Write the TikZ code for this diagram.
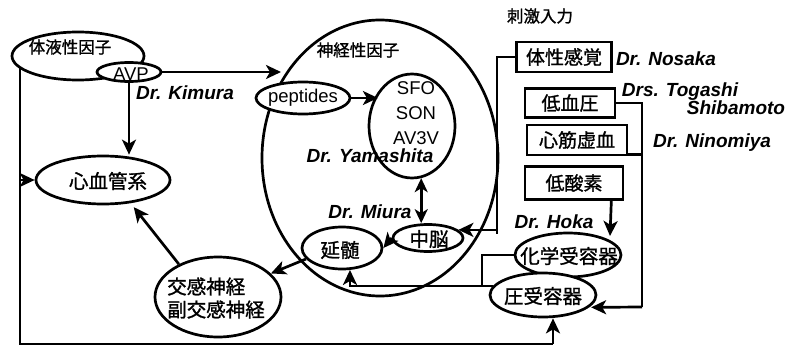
\documentclass[tikz,border=0pt]{standalone}
\usepackage{fontspec}
\setmainfont{Liberation Sans}
\newfontfamily\jp[FakeBold=1.2]{Noto Sans CJK JP}
\usetikzlibrary{shapes.geometric,arrows.meta}
\tikzset{
  ell/.style={ellipse, draw, line width=2.7pt, inner sep=0pt, fill=white},
  bx/.style={rectangle, draw, line width=2.7pt, inner sep=0pt, font=\jp\fontsize{19}{21}\selectfont},
  ln/.style={line width=2.7pt},
  arr/.style={line width=2.7pt, -{Stealth[length=15pt,width=14pt,inset=4pt]}},
  darr/.style={line width=2.7pt, {Stealth[length=14pt,width=13pt,inset=4pt]}-{Stealth[length=14pt,width=13pt,inset=4pt]}},
  jt/.style={font=\jp\fontsize{19.5}{23}\selectfont, inner sep=0pt},
  jts/.style={font=\jp\fontsize{16.5}{18}\selectfont, inner sep=0pt},
  nm/.style={font=\fontsize{19}{21}\selectfont\bfseries\itshape, inner sep=0pt},
  lt/.style={font=\fontsize{18.5}{25}\selectfont, inner sep=0pt}
}
\begin{document}
\begin{tikzpicture}[x=1pt,y=-1pt]
\useasboundingbox (0,0) rectangle (793,351);
% big ellipse
\node[ell, fill=none, minimum width=236pt, minimum height=276pt] (shinkei) at (380,158) {};
\node[jts] (shinkeit) at (358,50) {神経性因子};
% humoral
\node[ell, fill=none, minimum width=132pt, minimum height=48pt] (taieki) at (78,56) {};
\node[jts] (taiekit) at (70,47) {体液性因子};
\node[ell, minimum width=64pt, minimum height=19pt] (avp) at (129,72) {};
\node[lt] (avpt) at (131,74) {AVP};
\node[nm] (kimura) at (185,93) {Dr. Kimura};
% cardiovascular
\node[ell, minimum width=134pt, minimum height=48pt] (xin) at (103,180) {};
\node[jt] (xint) at (108,181) {心血管系};
% autonomic
\node[ell, minimum width=126pt, minimum height=80pt] (kou) at (218,297) {};
\node[jt, align=left] (kout) at (216,298) {交感神経\\副交感神経};
% peptides and SFO
\node[ell, minimum width=94pt, minimum height=32pt] (pep) at (303,98) {};
\node[lt] (pept) at (303,98) {peptides};
\node[ell, fill=none, minimum width=86pt, minimum height=104pt] (sfo) at (412,126) {};
\node[lt, align=center] (sfot) at (416,113) {SFO\\SON\\AV3V};
\node[nm] (yama) at (370,156) {Dr. Yamashita};
\node[nm] (miura) at (370,212) {Dr. Miura};
% midbrain, medulla
\node[ell, minimum width=70pt, minimum height=27pt] (chuno) at (428,238) {};
\node[jt] (chunot) at (429,239) {中脳};
\node[ell, minimum width=80pt, minimum height=42pt] (entai) at (342,248) {};
\node[jt] (entait) at (340,250) {延髄};
% stimulus inputs
\node[jts] (shigeki) at (540,16) {刺激入力};
\node[bx, minimum width=95pt, minimum height=30pt] (taisei) at (564,57) {体性感覚};
\node[nm] (nosaka) at (666,59) {Dr. Nosaka};
\node[bx, minimum width=90pt, minimum height=29pt] (teiketsu) at (570,103) {低血圧};
\node[nm] (togashi) at (680,92) {Drs. Togashi};
\node[nm] (shiba) at (736,108) {Shibamoto};
\node[bx, minimum width=100pt, minimum height=30pt] (shinkin) at (577,140) {心筋虚血};
\node[nm] (nino) at (712,143) {Dr. Ninomiya};
\node[bx, minimum width=98pt, minimum height=33pt] (teisanso) at (574,183) {低酸素};
\node[nm] (hoka) at (554,222) {Dr. Hoka};
% receptors
\node[ell, minimum width=106pt, minimum height=44pt] (kagaku) at (568,255) {};
\node[jt] (kagakut) at (569,256) {化学受容器};
\node[ell, minimum width=106pt, minimum height=44pt] (atsu) at (543,295) {};
\node[jt] (atsut) at (543,296) {圧受容器};
% coordinates
\coordinate (L1) at (20,67);
\coordinate (L2) at (20,344);
\coordinate (L3) at (553,344);
\coordinate (avpend) at (281,72);
\coordinate (vb) at (497,234);
\coordinate (rc) at (642,307);
\coordinate (hokatip) at (610,236);
\coordinate (jn) at (482,0);
% connectors
\draw[arr] (avp.east) -- (avpend);
\draw[arr] (avp.south) -- (xin.north -| avp.south);
\draw[ln] (L1) -- (L2) -- (L3);
\draw[arr] (L3) -- (atsu.south -| L3);
\draw[arr] (L1 |- xin.west) -- (xin.west);
\draw[arr, shorten >=5pt] (kou.140) -- (xin.-40);
\draw[arr] (entai.197) -- (kou.24);
\draw[arr] (pep.east) -- (sfo.135 |- pep.east);
\draw[darr] (sfo.-80) -- (chuno.north -| sfo.-80);
\draw[arr] (chuno.west) -- (entai.east);
\draw[ln] (taisei.west) -| (vb);
\draw[arr] (vb |- chuno.15) -- (chuno.15);
\draw[ln] (teiketsu.east) -| (rc);
\draw[ln] ([yshift=2pt]shinkin.south east) -- ([yshift=2pt]shinkin.south east -| rc);
\draw[arr, shorten >=2pt] (rc) -- (atsu.-15);
\draw[arr] ([xshift=-13pt]teisanso.south east) -- (hokatip);
\draw[ln] (kagaku.west) -| (jn |- atsu.170);
\draw[arr] (atsu.170) -- (atsu.170 -| entai.-70) -- (entai.-70);
\end{tikzpicture}
\end{document}
